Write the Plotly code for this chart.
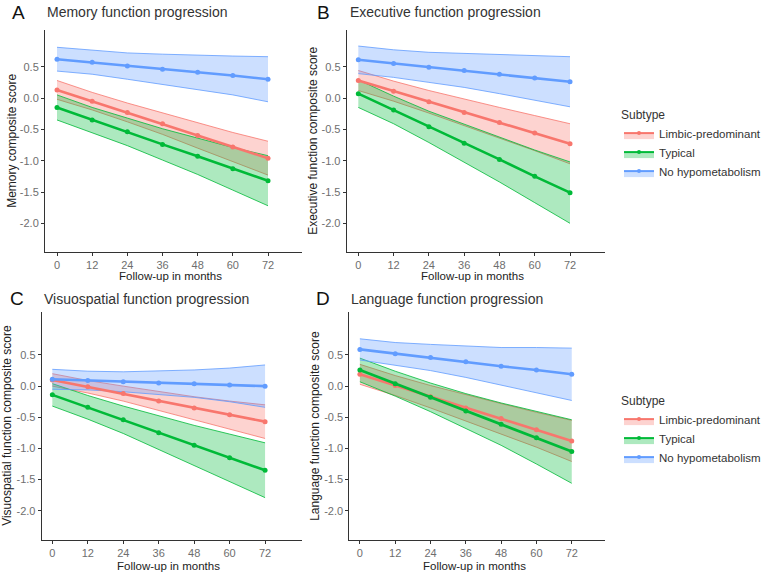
import plotly.graph_objects as go

months = [0, 12, 24, 36, 48, 60, 72]
subtypes = ["Limbic-predominant", "Typical", "No hypometabolism"]
y_ticks = [-2.0, -1.5, -1.0, -0.5, 0.0, 0.5]
y_tick_labels = ["-2.0", "-1.5", "-1.0", "-0.5", "0.0", "0.5"]
x_ticks = [0, 12, 24, 36, 48, 60, 72]

# A - memory
mem_limbic = [0.13, -0.05, -0.23, -0.41, -0.60, -0.78, -0.96]
mem_limbic_hi = [0.28, 0.09, -0.08, -0.24, -0.40, -0.55, -0.69]
mem_limbic_lo = [-0.02, -0.19, -0.38, -0.58, -0.80, -1.01, -1.23]
mem_typical = [-0.15, -0.35, -0.54, -0.74, -0.93, -1.13, -1.32]
mem_typical_hi = [0.05, -0.15, -0.32, -0.49, -0.64, -0.79, -0.92]
mem_typical_lo = [-0.35, -0.55, -0.76, -0.99, -1.22, -1.47, -1.72]
mem_nohypo = [0.62, 0.57, 0.51, 0.46, 0.41, 0.36, 0.30]
mem_nohypo_hi = [0.81, 0.76, 0.72, 0.70, 0.68, 0.67, 0.66]
mem_nohypo_lo = [0.43, 0.38, 0.30, 0.22, 0.14, 0.05, -0.06]

# B - executive
exe_limbic = [0.28, 0.11, -0.06, -0.23, -0.39, -0.56, -0.73]
exe_limbic_hi = [0.44, 0.27, 0.12, -0.02, -0.15, -0.28, -0.41]
exe_limbic_lo = [0.12, -0.05, -0.24, -0.44, -0.63, -0.84, -1.05]
exe_typical = [0.07, -0.19, -0.46, -0.72, -0.98, -1.25, -1.51]
exe_typical_hi = [0.29, 0.03, -0.21, -0.42, -0.62, -0.83, -1.02]
exe_typical_lo = [-0.15, -0.41, -0.71, -1.02, -1.34, -1.67, -2.00]
exe_nohypo = [0.61, 0.55, 0.49, 0.44, 0.38, 0.32, 0.26]
exe_nohypo_hi = [0.83, 0.77, 0.73, 0.71, 0.69, 0.67, 0.66]
exe_nohypo_lo = [0.39, 0.33, 0.25, 0.17, 0.07, -0.03, -0.14]

# C - visuospatial
vis_limbic = [0.10, -0.01, -0.12, -0.24, -0.35, -0.46, -0.57]
vis_limbic_hi = [0.20, 0.09, 0.00, -0.09, -0.17, -0.24, -0.30]
vis_limbic_lo = [0.00, -0.11, -0.24, -0.39, -0.53, -0.68, -0.84]
vis_typical = [-0.14, -0.34, -0.54, -0.75, -0.95, -1.15, -1.35]
vis_typical_hi = [0.04, -0.15, -0.32, -0.48, -0.63, -0.77, -0.91]
vis_typical_lo = [-0.32, -0.53, -0.76, -1.02, -1.27, -1.53, -1.79]
vis_nohypo = [0.11, 0.09, 0.07, 0.05, 0.04, 0.02, 0.00]
vis_nohypo_hi = [0.27, 0.24, 0.23, 0.24, 0.26, 0.29, 0.34]
vis_nohypo_lo = [-0.05, -0.06, -0.09, -0.14, -0.18, -0.25, -0.34]

# D - language
lan_limbic = [0.19, 0.01, -0.17, -0.35, -0.52, -0.70, -0.88]
lan_limbic_hi = [0.35, 0.17, 0.01, -0.14, -0.28, -0.42, -0.55]
lan_limbic_lo = [0.03, -0.15, -0.35, -0.56, -0.76, -0.98, -1.21]
lan_typical = [0.26, 0.04, -0.18, -0.40, -0.61, -0.83, -1.05]
lan_typical_hi = [0.45, 0.24, 0.05, -0.12, -0.27, -0.41, -0.54]
lan_typical_lo = [0.07, -0.16, -0.41, -0.68, -0.95, -1.25, -1.56]
lan_nohypo = [0.59, 0.52, 0.46, 0.39, 0.32, 0.26, 0.19]
lan_nohypo_hi = [0.76, 0.70, 0.67, 0.64, 0.62, 0.62, 0.61]
lan_nohypo_lo = [0.42, 0.34, 0.25, 0.14, 0.02, -0.10, -0.23]

line_colors = ["#F8766D", "#00BA38", "#619CFF"]
fill_colors = ["rgba(248,118,109,0.32)", "rgba(0,186,56,0.32)", "rgba(97,156,255,0.32)"]

FONT = "Liberation Sans, Arial, sans-serif"
W, H = 778, 576


def px(x, y):
    # pixel position -> paper coords
    return x / W, 1 - y / H


panels = [
    dict(letter="A", title="Memory function progression", ytitle="Memory composite score",
         series=[(mem_limbic, mem_limbic_lo, mem_limbic_hi),
                 (mem_typical, mem_typical_lo, mem_typical_hi),
                 (mem_nohypo, mem_nohypo_lo, mem_nohypo_hi)],
         box=(45, 302, 30, 251.7), xr=[-4.1, 83.6], yr=[-2.453, 1.086],
         letter_xy=(18, 12), title_xy=(45, 12), ytitle_x=12, xtitle_y=276),
    dict(letter="B", title="Executive function progression", ytitle="Executive function composite score",
         series=[(exe_limbic, exe_limbic_lo, exe_limbic_hi),
                 (exe_typical, exe_typical_lo, exe_typical_hi),
                 (exe_nohypo, exe_nohypo_lo, exe_nohypo_hi)],
         box=(346.7, 605, 30, 251.7), xr=[-3.95, 83.9], yr=[-2.453, 1.086],
         letter_xy=(323, 12), title_xy=(348, 12), ytitle_x=313, xtitle_y=276),
    dict(letter="C", title="Visuospatial function progression", ytitle="Visuospatial function composite score",
         series=[(vis_limbic, vis_limbic_lo, vis_limbic_hi),
                 (vis_typical, vis_typical_lo, vis_typical_hi),
                 (vis_nohypo, vis_nohypo_lo, vis_nohypo_hi)],
         box=(41.7, 302, 311.7, 540), xr=[-3.6, 84.5], yr=[-2.47, 1.195],
         letter_xy=(17, 298), title_xy=(42, 299), ytitle_x=7, xtitle_y=566),
    dict(letter="D", title="Language function progression", ytitle="Language function composite score",
         series=[(lan_limbic, lan_limbic_lo, lan_limbic_hi),
                 (lan_typical, lan_typical_lo, lan_typical_hi),
                 (lan_nohypo, lan_nohypo_lo, lan_nohypo_hi)],
         box=(349.3, 605, 311.7, 540), xr=[-3.6, 83.3], yr=[-2.47, 1.195],
         letter_xy=(323, 298), title_xy=(349, 299), ytitle_x=315, xtitle_y=566),
]

fig = go.Figure()
annotations = []
layout_axes = {}

for i, p in enumerate(panels):
    n = "" if i == 0 else str(i + 1)
    xa, ya = "x" + n, "y" + n
    # ribbons first, then the fitted lines on top
    for k, (mean, lo, hi) in enumerate(p["series"]):
        fig.add_trace(go.Scatter(x=months, y=lo, mode="lines", xaxis=xa, yaxis=ya,
                                 line=dict(color=line_colors[k], width=0.8),
                                 showlegend=False, hoverinfo="skip"))
        fig.add_trace(go.Scatter(x=months, y=hi, mode="lines", xaxis=xa, yaxis=ya,
                                 line=dict(color=line_colors[k], width=0.8),
                                 fill="tonexty", fillcolor=fill_colors[k],
                                 showlegend=False, hoverinfo="skip"))
    for k, (mean, lo, hi) in enumerate(p["series"]):
        fig.add_trace(go.Scatter(x=months, y=mean, mode="lines+markers", xaxis=xa, yaxis=ya,
                                 line=dict(color=line_colors[k], width=2.6),
                                 marker=dict(color=line_colors[k], size=5),
                                 name=subtypes[k], showlegend=False))

    x0, x1, y0, y1 = p["box"]
    axis_common = dict(showline=True, linecolor="#333333", linewidth=1, ticks="outside",
                       ticklen=3, tickcolor="#333333", showgrid=False, zeroline=False,
                       tickfont=dict(family=FONT, size=11, color="#6e6e6e"))
    layout_axes["xaxis" + n] = dict(axis_common, domain=[x0 / W, x1 / W], range=p["xr"],
                                    tickvals=x_ticks, anchor=ya)
    layout_axes["yaxis" + n] = dict(axis_common, domain=[1 - y1 / H, 1 - y0 / H], range=p["yr"],
                                    tickvals=y_ticks, ticktext=y_tick_labels, anchor=xa)

    lx, ly = px(*p["letter_xy"])
    annotations.append(dict(x=lx, y=ly, xref="paper", yref="paper", text=p["letter"],
                            xanchor="center", yanchor="middle", showarrow=False,
                            font=dict(family=FONT, size=19, color="#111111")))
    tx, ty = px(*p["title_xy"])
    annotations.append(dict(x=tx, y=ty, xref="paper", yref="paper", text=p["title"],
                            xanchor="left", yanchor="middle", showarrow=False,
                            font=dict(family=FONT, size=14, color="#333333")))
    yx, yy = px(p["ytitle_x"], (y0 + y1) / 2)
    annotations.append(dict(x=yx, y=yy, xref="paper", yref="paper", text=p["ytitle"],
                            textangle=-90, xanchor="center", yanchor="middle", showarrow=False,
                            font=dict(family=FONT, size=12, color="#222222")))
    xx, xy = px((x0 + x1) / 2 - 3, p["xtitle_y"])
    annotations.append(dict(x=xx, y=xy, xref="paper", yref="paper", text="Follow-up in months",
                            xanchor="center", yanchor="middle", showarrow=False,
                            font=dict(family=FONT, size=11.5, color="#222222")))

# legend-only entries (one set per legend)
for leg in ["legend", "legend2"]:
    for k, name in enumerate(subtypes):
        fig.add_trace(go.Scatter(x=[None], y=[None], mode="lines+markers", name=name,
                                 line=dict(color=line_colors[k], width=2),
                                 marker=dict(color=line_colors[k], size=4),
                                 fill="toself", fillcolor=fill_colors[k],
                                 legend=leg, showlegend=True))

legend_common = dict(xanchor="left", yanchor="top", itemwidth=30, tracegroupgap=0,
                     traceorder="normal", bgcolor="rgba(0,0,0,0)",
                     font=dict(family=FONT, size=11.5, color="#333333"),
                     title=dict(text="Subtype", font=dict(family=FONT, size=12, color="#333333")))

fig.update_layout(
    width=W, height=H,
    margin=dict(l=0, r=0, t=0, b=0),
    plot_bgcolor="white", paper_bgcolor="white",
    annotations=annotations,
    legend=dict(legend_common, x=619 / W, y=1 - 103 / H),
    legend2=dict(legend_common, x=619 / W, y=1 - 389 / H),
    **layout_axes,
)

# page body has a default margin; drop it so the figure sits at 0,0
fig.write_html("out.html", config={"displayModeBar": False},
               post_script="document.body.style.margin='0px';")
